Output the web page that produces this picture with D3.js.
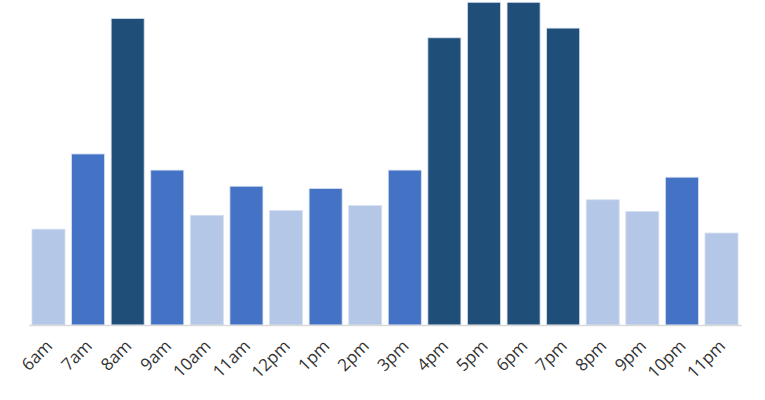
<!DOCTYPE html>
<html><head><meta charset="utf-8">
<script src="https://cdn.jsdelivr.net/npm/d3@7"></script>
<style>body{margin:0;background:#fff}svg{display:block}</style>
</head><body>
<script>
const hours = ["6am","7am","8am","9am","10am","11am","12pm","1pm","2pm","3pm","4pm","5pm","6pm","7pm","8pm","9pm","10pm","11pm"];
const values = [29.7,53,95,48,34,43,35.5,42.3,37,48,89,100,100,92,38.8,35.2,45.8,28.5];
const levels = ["low","mid","high","mid","low","mid","low","mid","low","mid","high","high","high","high","low","low","mid","low"];
const levelColors = {low:"#b4c7e7", mid:"#4472c4", high:"#1f4e79"};

const W=765,H=400;
const svg=d3.select("body").append("svg").attr("width",W).attr("height",H);
const x=d3.scaleBand().domain(hours).range([28.7,741.3]).paddingInner(0.166).paddingOuter(0.083);
const y=d3.scaleLinear().domain([0,100]).range([325,2.3]);

svg.append("g").selectAll("rect").data(hours).join("rect")
  .attr("x",d=>x(d)).attr("width",x.bandwidth())
  .attr("y",(d,i)=>y(values[i])).attr("height",(d,i)=>y(0)-y(values[i]))
  .attr("fill",(d,i)=>levelColors[levels[i]])
  .attr("stroke","#d6e0f0").attr("stroke-width",0.8);

const ax=svg.append("g").attr("transform","translate(0,325)").call(d3.axisBottom(x).tickSize(0).tickPadding(0));
ax.select(".domain").attr("stroke","#d9d9d9").attr("stroke-width",1.3);
ax.selectAll("text")
  .attr("font-family","'Open Sans', sans-serif").attr("font-size",17).attr("fill","#333333")
  .attr("text-anchor","end").attr("dy",null).attr("y",0)
  .attr("transform","translate(5,22) rotate(-45)");
</script>
</body></html>
